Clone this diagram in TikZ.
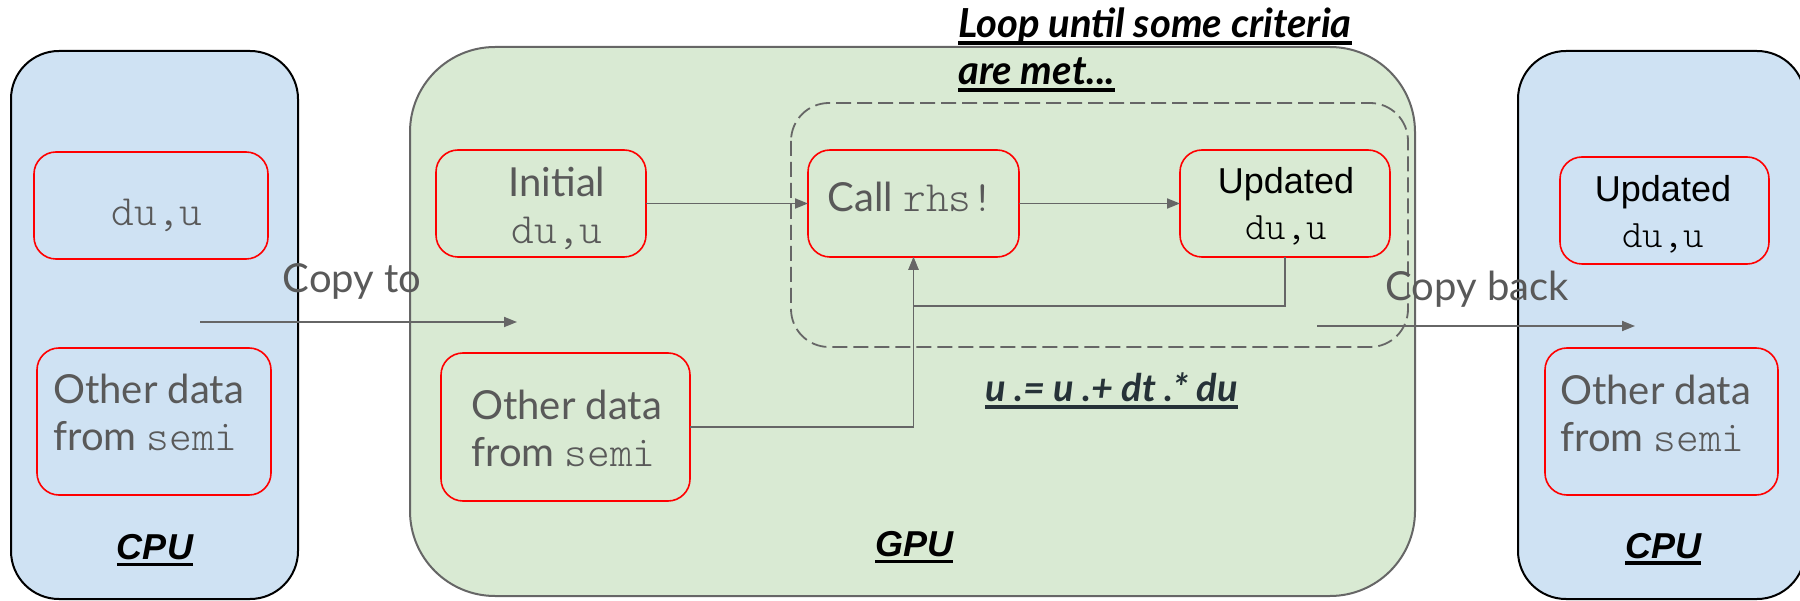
\documentclass[tikz,border=0pt]{standalone}
\usepackage{fontspec}
\setmainfont{Lato}
\setmonofont{Latin Modern Mono Light}[Scale=1.08]
\newfontfamily\arialfont{Liberation Sans}
\usetikzlibrary{arrows.meta}
\definecolor{cpublue}{HTML}{CFE2F3}
\definecolor{gpugreen}{HTML}{D9EAD3}
\definecolor{txtgray}{HTML}{595959}
\definecolor{linegray}{HTML}{666666}
\definecolor{eqdark}{HTML}{263238}
\newcommand{\ultext}[1]{\setbox0\hbox{#1}\rlap{\raisebox{-7pt}{\rule{\wd0}{3.5pt}}}\box0}

\begin{document}
\begin{tikzpicture}[x=1pt,y=-1pt,
  databox/.style={draw=red,line width=1.6pt,rounded corners=22pt,inner sep=0pt,outer sep=0pt},
  lbl/.style={text=txtgray,inner sep=0pt,font=\fontsize{40}{47}\selectfont},
  blk/.style={text=black,inner sep=0pt,font=\arialfont\fontsize{36}{46}\selectfont},
  unitlbl/.style={inner sep=0pt,anchor=base,font=\arialfont\bfseries\itshape\fontsize{36}{40}\selectfont},
  note/.style={inner sep=0pt,anchor=base west,font=\bfseries\itshape\fontsize{40}{44}\selectfont},
  arr/.style={draw=linegray,line width=1.8pt,-{Triangle[length=13pt,width=10pt]}}]
  \clip (0,0) rectangle (1800,601);
  \filldraw[fill=cpublue,draw=black,line width=2pt,rounded corners=48pt] (11,51) rectangle (298,599);
  \filldraw[fill=gpugreen,draw=linegray,line width=2pt,rounded corners=85pt] (410,47) rectangle (1415,596);
  \filldraw[fill=cpublue,draw=black,line width=2pt,rounded corners=48pt] (1518,51) rectangle (1805,599);
  \draw[linegray,line width=1.8pt,dash pattern=on 15pt off 6pt,rounded corners=38pt] (791,103) rectangle (1408,347);

  \node[databox,minimum width=234pt,minimum height=107pt] (cpuIn) at (151,205.5) {};
  \node[databox,minimum width=234pt,minimum height=147pt] (cpuOther) at (154,421.5) {};
  \node[databox,minimum width=210pt,minimum height=107pt] (initBox) at (541,203.5) {};
  \node[databox,minimum width=211pt,minimum height=107pt] (callBox) at (913.5,203.5) {};
  \node[databox,minimum width=210pt,minimum height=107pt] (updBox) at (1285,203.5) {};
  \node[databox,minimum width=249pt,minimum height=148pt] (gpuOther) at (565.5,427) {};
  \node[databox,minimum width=209pt,minimum height=107pt] (hostUpd) at (1664.5,210.5) {};
  \node[databox,minimum width=233pt,minimum height=147pt] (hostOther) at (1661.5,421.5) {};

  \node[lbl] (cpuInTxt) at (157,215) {\texttt{du,u}};
  \node[lbl,align=left,anchor=west] (cpuOtherTxt) at (53,412) {Other data\\from \texttt{semi}};
  \node[lbl,align=center] (initTxt) at (557,208.5) {Initial\\\texttt{du,u}};
  \node[lbl] (callTxt) at (911,197) {Call \texttt{rhs!}};
  \node[blk,align=center] (updTxt) at (1286,206.5) {Updated\\\texttt{du,u}};
  \node[lbl,align=left,anchor=west] (gpuOtherTxt) at (471,428) {Other data\\from \texttt{semi}};
  \node[blk,align=center] (hostUpdTxt) at (1663,214) {Updated\\\texttt{du,u}};
  \node[lbl,align=left,anchor=west] (hostOtherTxt) at (1560,413) {Other data\\from \texttt{semi}};

  \node[unitlbl] (cpuLbl) at (155,559) {\ultext{CPU}};
  \node[unitlbl] (gpuLbl) at (914,556) {\ultext{GPU}};
  \node[unitlbl] (hostLbl) at (1663,558) {\ultext{CPU}};
  \node[note] (loopA) at (958,38) {\ultext{Loop until some criteria}};
  \node[note] (loopB) at (958,85) {\ultext{are met...}};
  \node[note,text=eqdark,font=\bfseries\itshape\fontsize{38}{40}\selectfont] (stepEq) at (985,402) {\ultext{u .= u .+ dt .* du}};

  \node[lbl] (copyTo) at (352,281) {Copy to};
  \node[lbl] (copyBack) at (1477,289) {Copy back};
  \coordinate (toS) at (200,322);
  \coordinate (toE) at (517,322);
  \coordinate (backS) at (1317,326);
  \coordinate (backE) at (1635,326);

  \draw[arr] (toS) -- (toE);
  \draw[arr] (backS) -- (backE);
  \draw[arr] (initBox.east) -- (callBox.west);
  \draw[arr] (callBox.east) -- (updBox.west);
  \draw[arr] (gpuOther.east) -| (callBox.south);
  \draw[arr] (updBox.south) -- ++(0,49) -| (callBox.south);
\end{tikzpicture}
\end{document}
